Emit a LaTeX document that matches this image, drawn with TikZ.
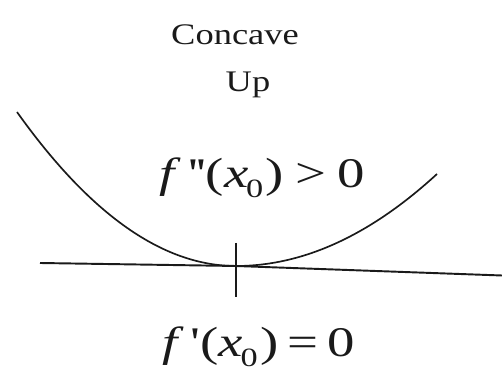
\documentclass[tikz,border=0pt]{standalone}
\usepackage{fontspec}
\setmainfont{Liberation Serif}
\usepackage{tikz}
\definecolor{plotInk}{HTML}{1A1A1A}
\usetikzlibrary{positioning,calc}
\newcommand{\lowzero}{\raisebox{-5.5pt}{\fontsize{15}{15}\selectfont 0}}

\begin{document}
\begin{tikzpicture}[
  caption/.style={font=\fontsize{17}{20}\selectfont, text=plotInk, anchor=base, inner sep=0pt, xscale=1.22, transform shape},
  formula/.style={font=\fontsize{24}{28}\selectfont, text=plotInk, anchor=base, inner sep=0pt, xscale=1.3, transform shape},
  curveline/.style={line width=0.95pt, plotInk},
  tangentline/.style={line width=1.1pt, plotInk},
  tickline/.style={line width=0.9pt, plotInk}
]
\useasboundingbox (0,0) rectangle (10.04,7.42);

% Points of the curve
\coordinate (leftEnd) at (0.34,5.18);
\coordinate (vertex) at (4.72,2.10);
\coordinate (rightEnd) at (8.74,3.94);
\coordinate (tanLeft) at (0.80,2.16);
\coordinate (tanRight) at (10.04,1.91);
\coordinate (tickTop) at (4.72,2.56);
\coordinate (tickBottom) at (4.72,1.48);

% Curve, tangent and tick
\draw[curveline] (leftEnd) .. controls (1.80,3.13) and (3.26,2.10) .. (vertex)
  .. controls (6.06,2.10) and (7.40,2.71) .. (rightEnd);
\draw[tangentline] (tanLeft) -- (vertex) -- (tanRight);
\draw[tickline] (tickTop) -- (tickBottom);

% Labels
\node[caption] (concave) at (4.70,6.52) {Concave};
\node[caption] (up) at (4.96,5.58) {Up};
\node[formula] (secondDeriv) at (5.25,3.66) {\textit{f}\kern3pt\textquotesingle\kern-1pt\textquotesingle(\textit{x}\kern-1pt\lowzero\kern1pt)\kern5pt>\kern5pt0};
\node[formula] (firstDeriv) at (5.17,0.28) {\textit{f}\kern3pt\textquotesingle(\textit{x}\kern-1pt\lowzero\kern1pt)\kern4pt=\kern4pt0};

\end{tikzpicture}
\end{document}
